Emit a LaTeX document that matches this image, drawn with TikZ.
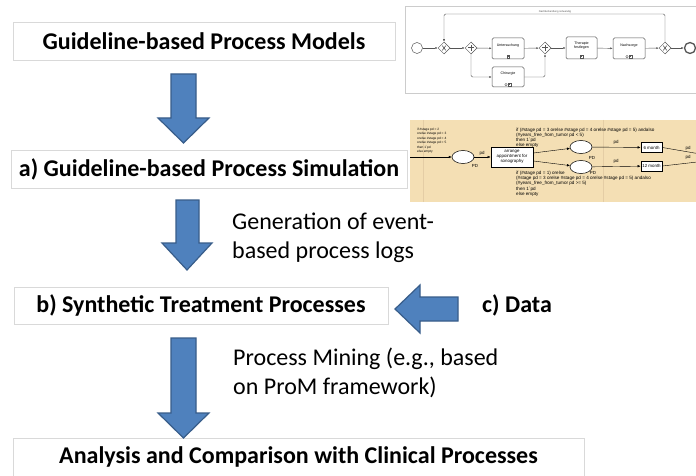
\documentclass[tikz,border=0pt]{standalone}
\usepackage{fontspec}
\setmainfont{Carlito}
\newfontfamily\smallsans{Liberation Sans}
\usetikzlibrary{shapes.geometric,arrows.meta}
\definecolor{arrowblue}{HTML}{4F81BD}
\definecolor{arrowedge}{HTML}{385D8A}
\definecolor{boxgray}{HTML}{D9D9D9}
\definecolor{cpnbg}{RGB}{244,223,180}
\definecolor{cpnline}{RGB}{228,205,165}
\definecolor{bpmngray}{HTML}{555555}
\definecolor{framegray}{HTML}{CCCCCC}
\begin{document}
\begin{tikzpicture}[x=1pt,y=-1pt,
  titlebox/.style={draw=boxgray, line width=0.8pt, fill=white, inner sep=0pt,
    font=\fontsize{24}{28}\selectfont\bfseries},
  titletext/.style={inner sep=0pt, font=\fontsize{24}{28}\selectfont\bfseries},
  boxline/.style={draw=boxgray, line width=0.8pt},
  note/.style={align=left, anchor=west, inner sep=0pt, font=\fontsize{24}{29}\selectfont},
  blockarrow/.style={fill=arrowblue, draw=arrowedge, line width=1.2pt, line join=miter},
  % BPMN
  bline/.style={draw=bpmngray, line width=0.45pt},
  bflow/.style={bline, -{Latex[length=2.5pt,width=2pt]}},
  task/.style={draw=bpmngray, rounded corners=1.5pt, fill=white, line width=0.5pt,
    inner sep=0pt, align=center, font=\smallsans\fontsize{3.6}{4.2}\selectfont},
  gate/.style={diamond, draw=bpmngray, fill=white, minimum size=12pt, inner sep=0pt, line width=0.5pt},
  event/.style={circle, draw=bpmngray, fill=white, minimum size=11pt, inner sep=0pt, line width=0.5pt},
  subm/.style={draw=bpmngray, line width=0.3pt, minimum size=2.6pt, inner sep=0pt,
    path picture={\draw[bpmngray, line width=0.3pt]
      ([yshift=-0.5pt]path picture bounding box.north) -- ([yshift=0.5pt]path picture bounding box.south)
      ([xshift=0.5pt]path picture bounding box.west) -- ([xshift=-0.5pt]path picture bounding box.east);}},
  btiny/.style={inner sep=0pt, font=\smallsans\fontsize{2.6}{3}\selectfont, text=bpmngray},
  % CPN
  cpnplace/.style={ellipse, draw=black, fill=white, minimum width=22pt, minimum height=13pt, inner sep=0pt, line width=0.5pt},
  cpntrans/.style={rectangle, draw=black, fill=white, line width=0.9pt, inner sep=0pt, align=center,
    font=\smallsans\fontsize{4.4}{4.9}\selectfont},
  cpnarc/.style={draw=black, line width=0.4pt, -{Latex[length=3pt,width=2.6pt]}},
  cpntext/.style={inner sep=0pt, align=left, font=\smallsans\fontsize{4.6}{5.2}\selectfont},
  cpnsmall/.style={inner sep=0pt, align=left, font=\smallsans\fontsize{3.2}{4.5}\selectfont},
  cpnlab/.style={inner sep=0.6pt, font=\smallsans\fontsize{4.4}{5}\selectfont}
]
\useasboundingbox (0,0) rectangle (696,476);
\fill[white] (0,0) rectangle (696,476);

% ---------- main boxes ----------
\node[titlebox, minimum width=382pt, minimum height=38pt] (models) at (204,41) {Guideline-based Process Models};
\node[titlebox, minimum width=396pt, minimum height=38pt] (sim) at (209,169) {a) Guideline-based Process Simulation};
\node[titlebox, minimum width=374pt, minimum height=37pt] (synth) at (201,305.5) {b) Synthetic Treatment Processes};
\draw[boxline] (13,482) |- (584,438) -- (584,482);
\node[titletext] (analysis) at (298.5,457) {Analysis and Comparison with Clinical Processes};
\node[titletext, anchor=west] (data) at (482,305) {c) Data};

% ---------- notes ----------
\node[note] (gen) at (232,237.5) {Generation of event-\\based process logs};
\node[note] (pm) at (233,373) {Process Mining (e.g., based\\on ProM framework)};

% ---------- block arrows ----------
\path[blockarrow] (171,74) -- (196,74) -- (196,118) -- (209,118) -- (183.5,143) -- (158,118) -- (171,118) -- cycle;
\path[blockarrow] (176,200) -- (199,200) -- (199,243) -- (212,243) -- (187,270) -- (162,243) -- (176,243) -- cycle;
\path[blockarrow] (458,297) -- (420,297) -- (420,285) -- (395,309) -- (420,333) -- (420,321) -- (458,321) -- cycle;
\path[blockarrow] (171,338) -- (196,338) -- (196,413) -- (209,413) -- (183.5,438) -- (158,413) -- (171,413) -- cycle;

% ---------- BPMN model (top right) ----------
\draw[draw=framegray, fill=white, line width=0.8pt] (405,6) rectangle (706,93);
\node[event] (start) at (417,48) {};
\node[gate] (xor1) at (444,48) {};
\node[gate] (and1) at (471,48) {};
\node[task, minimum width=32pt, minimum height=21pt] (unt) at (508,48.5) {Untersuchung\\[3pt]};
\node[task, minimum width=32pt, minimum height=20pt] (chir) at (508,77) {Chirurgie\\[3pt]};
\node[gate] (and2) at (545,48) {};
\node[task, minimum width=31pt, minimum height=22pt] (ther) at (581.5,48) {Therapie\\festlegen\\[2pt]};
\node[task, minimum width=32pt, minimum height=21pt] (nach) at (629,48.5) {Nachsorge\\[3pt]};
\node[gate] (xor2) at (665,48) {};
\node[event, line width=1.3pt] (endev) at (690,48) {};
\coordinate (lp) at (555,14);
\node[btiny, anchor=south] (cond) at ([yshift=1pt]lp) {Nachbehandlung notwendig};

% gateway markers
\foreach \g in {xor1,xor2}{
  \draw[bpmngray, line width=0.6pt] ([shift={(-1.8pt,-2.4pt)}]\g.center) -- ([shift={(1.8pt,2.4pt)}]\g.center)
    ([shift={(-1.8pt,2.4pt)}]\g.center) -- ([shift={(1.8pt,-2.4pt)}]\g.center);
}
\foreach \g in {and1,and2}{
  \draw[bpmngray, line width=1pt] ([yshift=-3pt]\g.center) -- ([yshift=3pt]\g.center)
    ([xshift=-3pt]\g.center) -- ([xshift=3pt]\g.center);
}
% task markers
\node[subm] (um) at ([yshift=2.6pt]unt.south) {};
\node[subm] (tm) at ([yshift=2.6pt]ther.south) {};
\node[subm] (nm) at ([xshift=1.6pt,yshift=2.6pt]nach.south) {};
\node[subm] (cm) at ([xshift=1.6pt,yshift=2.6pt]chir.south) {};
\draw[bpmngray, line width=0.3pt] ([xshift=-3.6pt]nm.center) circle (1.2pt);
\draw[bpmngray, line width=0.3pt] ([xshift=-3.6pt]cm.center) circle (1.2pt);

% sequence flows
\draw[bflow] (start) -- (xor1);
\draw[bflow] (xor1) -- (and1);
\draw[bflow] (and1) -- (unt);
\draw[bflow, rounded corners=1.5pt] (and1) |- (chir);
\draw[bflow] (unt) -- (and2);
\draw[bflow, rounded corners=1.5pt] (chir) -| (and2);
\draw[bflow] (and2) -- (ther);
\draw[bflow] (ther) -- (nach);
\draw[bflow] (nach) -- (xor2);
\draw[bflow] (xor2) -- (endev);
\draw[bflow, rounded corners=1.5pt] (xor2.north) |- (lp) -| (xor1.north);

% ---------- CPN model (middle right) ----------
\fill[cpnbg] (410,120) rectangle (706,202);
\draw[cpnline, line width=0.6pt] (423,120) -- (423,202);
\draw[cpnline, line width=0.6pt] (603,120) -- (603,202);

\coordinate (cpnin) at (410,157);
\node[cpnplace] (p1) at (463,157) {};
\node[cpntrans, minimum width=42pt, minimum height=20pt] (t1) at (512,157) {arrange\\appointment for\\sonography};
\node[cpnplace] (p2) at (581,147) {};
\node[cpnplace] (p3) at (581,167) {};
\node[cpntrans, minimum width=21pt, minimum height=9.5pt, font=\smallsans\fontsize{4.4}{5}\selectfont] (t2) at (651.5,147.5) {6 month};
\node[cpntrans, minimum width=21pt, minimum height=10pt, font=\smallsans\fontsize{4.4}{5}\selectfont] (t3) at (651.5,166) {12 month};
\coordinate (out1) at (706,155);
\coordinate (out2) at (706,161);

\draw[cpnarc] (cpnin) -- (p1);
\draw[cpnarc] (p1) -- (t1);
\draw[cpnarc] (t1.east) ++(0,-4) -- (p2);
\draw[cpnarc] (t1.east) ++(0,4) -- (p3);
\draw[cpnarc] (p2) -- (t2);
\draw[cpnarc] (p3) -- (t3);
\draw[draw=black, line width=0.4pt] (t2.east) -- (out1);
\draw[draw=black, line width=0.4pt] (t3.east) -- (out2);

\node[cpnlab] (l1) at (482,153) {pd};
\node[cpnlab] (l2) at (616,142.5) {pd};
\node[cpnlab] (l3) at (616,161.5) {pd};
\node[cpnlab] (l4) at (688,148) {pd};
\node[cpnlab] (l5) at (688,157) {pd};
\node[cpnlab] (pd1) at (475,166) {PD};
\node[cpnlab] (pd2) at (592,157.5) {PD};
\node[cpnlab] (pd3) at (593,172.8) {PD};

\node[cpnsmall, anchor=north west] (ins1) at (417,127.5) {if \#stage pd = 2\\orelse \#stage pd = 3\\orelse \#stage pd = 4\\orelse \#stage pd = 5\\then 1\textasciigrave pd\\else empty};
\node[cpntext, anchor=north west] (ins2) at (516,127.5) {if (\#stage pd = 3 orelse \#stage pd = 4 orelse \#stage pd = 5) andalso\\(\#years\_free\_from\_tumor pd < 5)\\then 1\textasciigrave pd\\else empty};
\node[cpntext, anchor=north west] (ins3) at (516,171) {if (\#stage pd = 1) orelse\\(\#stage pd = 3 orelse \#stage pd = 4 orelse \#stage pd = 5) andalso\\(\#years\_free\_from\_tumor pd >= 5)\\then 1\textasciigrave pd\\else empty};
\end{tikzpicture}
\end{document}
